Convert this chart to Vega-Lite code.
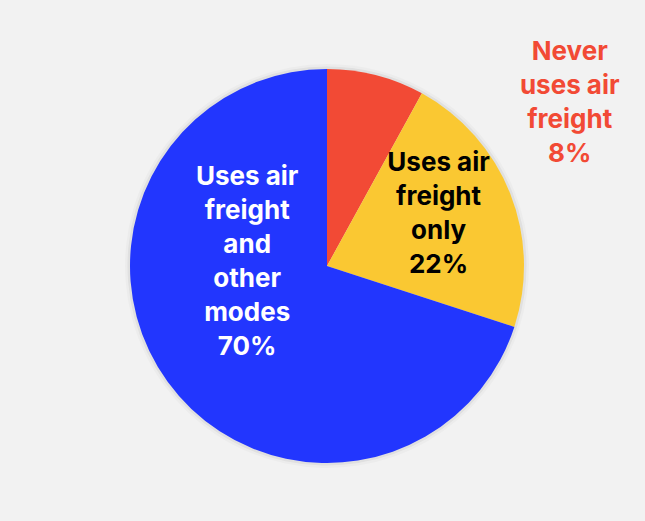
{
  "$schema": "https://vega.github.io/schema/vega-lite/v6.json",
  "width": 636,
  "height": 510,
  "autosize": "none",
  "padding": {"left": 9, "top": 11, "right": 0, "bottom": 0},
  "background": "#f2f2f2",
  "config": {"view": {"stroke": null}},
  "data": {
    "values": [
      {"category": "Never uses air freight", "share": 8, "label": "Never\nuses air\nfreight\n8%"},
      {"category": "Uses air freight only", "share": 22, "label": "Uses air\nfreight\nonly\n22%"},
      {"category": "Uses air freight and other modes", "share": 70, "label": "Uses air\nfreight\nand\nother\nmodes\n70%"}
    ]
  },
  "encoding": {
    "theta": {"field": "share", "type": "quantitative", "stack": true},
    "order": {"field": "share", "type": "quantitative", "sort": "ascending"}
  },
  "layer": [
    {"mark": {"type": "arc", "radius": 202, "fill": "#000000", "opacity": 0.025}},
    {"mark": {"type": "arc", "radius": 199.5, "fill": "#000000", "opacity": 0.05}},
    {
      "mark": {"type": "arc", "radius": 197},
      "encoding": {
        "color": {
          "field": "category",
          "type": "nominal",
          "scale": {
            "domain": ["Never uses air freight", "Uses air freight only", "Uses air freight and other modes"],
            "range": ["#F24A35", "#FAC832", "#2236FE"]
          },
          "legend": null
        }
      }
    },
    {
      "mark": {"type": "text", "radius": 90, "dx": -7, "dy": -142, "font": "Inter", "fontSize": 26, "fontWeight": "bold", "lineHeight": 34, "lineBreak": "\n", "fill": "#ffffff", "baseline": "middle", "align": "center"},
      "encoding": {"text": {"condition": {"test": "datum.category === 'Uses air freight and other modes'", "field": "label"}, "value": ""}}
    },
    {
      "mark": {"type": "text", "radius": 120, "dx": 0, "dy": -59, "font": "Inter", "fontSize": 26, "fontWeight": "bold", "lineHeight": 34, "lineBreak": "\n", "fill": "#000000", "baseline": "middle", "align": "center"},
      "encoding": {"text": {"condition": {"test": "datum.category === 'Uses air freight only'", "field": "label"}, "value": ""}}
    },
    {
      "mark": {"type": "text", "radius": 200, "dx": 193, "dy": -20, "font": "Inter", "fontSize": 26, "fontWeight": "bold", "lineHeight": 34, "lineBreak": "\n", "fill": "#F24A35", "baseline": "middle", "align": "center"},
      "encoding": {"text": {"condition": {"test": "datum.category === 'Never uses air freight'", "field": "label"}, "value": ""}}
    }
  ]
}
